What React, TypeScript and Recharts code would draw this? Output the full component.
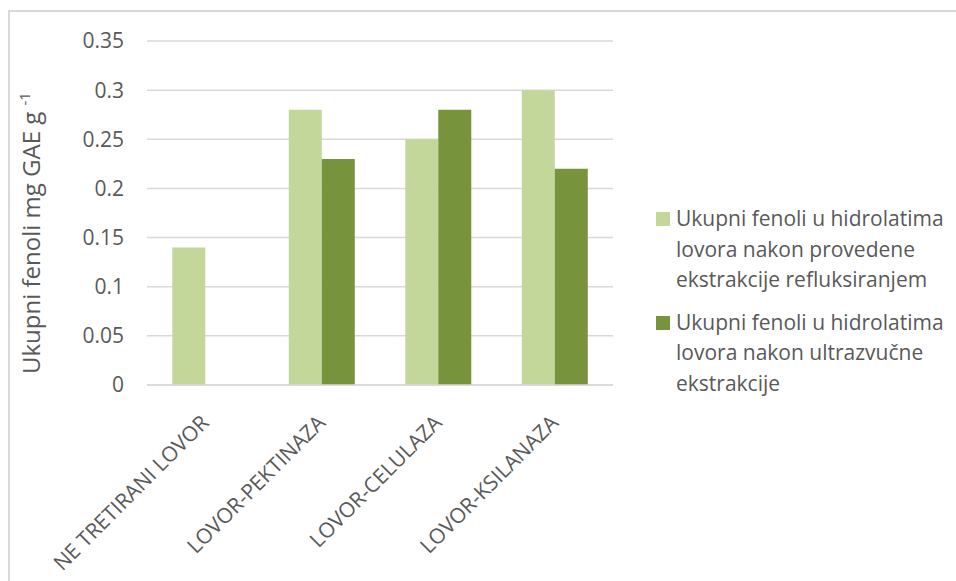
import React from 'react';
import { BarChart, Bar, XAxis, YAxis, CartesianGrid } from 'recharts';

const CATEGORIES = ['NE TRETIRANI LOVOR', 'LOVOR-PEKTINAZA', 'LOVOR-CELULAZA', 'LOVOR-KSILANAZA'];
const REFLUKS = [0.14, 0.28, 0.25, 0.3];
const ULTRAZVUK = [null, 0.23, 0.28, 0.22];
const Y_TICKS = [0, 0.05, 0.1, 0.15, 0.2, 0.25, 0.3, 0.35];

const SERIES_1 = ['Ukupni fenoli u hidrolatima', 'lovora nakon provedene', 'ekstrakcije refluksiranjem'];
const SERIES_2 = ['Ukupni fenoli u hidrolatima', 'lovora nakon ultrazvučne', 'ekstrakcije'];

const LIGHT = '#C4D79B';
const DARK = '#77933C';
const TEXT = '#595959';
const GRID = '#D9D9D9';
const FONT = '"Open Sans", sans-serif';

const data = CATEGORIES.map((name, i) => ({ name, refluks: REFLUKS[i], ultrazvuk: ULTRAZVUK[i] }));

// rotirani natpis kategorije, kraj teksta je malo desno od sredine kategorije
const XTick = (props: any) => {
  const { x, y, payload } = props;
  return (
    <text
      x={x + 5}
      y={y + 31}
      textAnchor="end"
      transform={`rotate(-45, ${x + 5}, ${y + 31})`}
      fill={TEXT}
      fontSize={21}
      fontFamily={FONT}
    >
      {payload.value}
    </text>
  );
};

const YTitle = () => (
  <text
    x={40}
    y={374}
    transform="rotate(-90, 40, 374)"
    fill={TEXT}
    fontSize={24}
    fontFamily={FONT}
  >
    Ukupni fenoli mg GAE g <tspan dy={-10} fontSize={15}>-1</tspan>
  </text>
);

const legendItems = [
  { color: LIGHT, lines: SERIES_1 },
  { color: DARK, lines: SERIES_2 },
];

export default function App() {
  return (
    <div style={{ position: 'absolute', left: 0, top: 0, width: 956, height: 581, background: '#fff', overflow: 'hidden' }}>
      <div
        style={{
          position: 'absolute',
          left: 8,
          top: 10,
          width: 1000,
          height: 600,
          borderTop: `2px solid ${GRID}`,
          borderLeft: `2px solid ${GRID}`,
        }}
      />
      <div style={{ position: 'absolute', left: 0, top: 0 }}>
        <BarChart
          width={640}
          height={581}
          data={data}
          margin={{ top: 41, right: 27, bottom: 0, left: 47 }}
          barCategoryGap="21.7%"
          barGap={0}
        >
          <CartesianGrid vertical={false} stroke={GRID} strokeWidth={1.5} />
          <XAxis
            dataKey="name"
            interval={0}
            height={196}
            tickLine={false}
            axisLine={{ stroke: GRID, strokeWidth: 1.5 }}
            tick={<XTick />}
          />
          <YAxis
            width={100}
            domain={[0, 0.35]}
            ticks={Y_TICKS}
            axisLine={false}
            tickLine={false}
            tickSize={6}
            tickMargin={17}
            tick={{ fill: TEXT, fontSize: 21, fontFamily: FONT }}
            label={<YTitle />}
          />
          <Bar dataKey="refluks" fill={LIGHT} isAnimationActive={false} />
          <Bar dataKey="ultrazvuk" fill={DARK} isAnimationActive={false} />
        </BarChart>
      </div>
      <div style={{ position: 'absolute', left: 656, top: 203, width: 300, fontFamily: FONT, fontSize: 21, lineHeight: '30.5px', color: TEXT, whiteSpace: 'nowrap' }}>
        {legendItems.map((item, i) => (
          <div key={i} style={{ position: 'relative', paddingLeft: 20, marginBottom: i === 0 ? 12 : 0 }}>
            <span style={{ position: 'absolute', left: 0, top: 9, width: 14, height: 14, background: item.color }} />
            {item.lines.map((line, j) => (
              <div key={j}>{line}</div>
            ))}
          </div>
        ))}
      </div>
    </div>
  );
}
